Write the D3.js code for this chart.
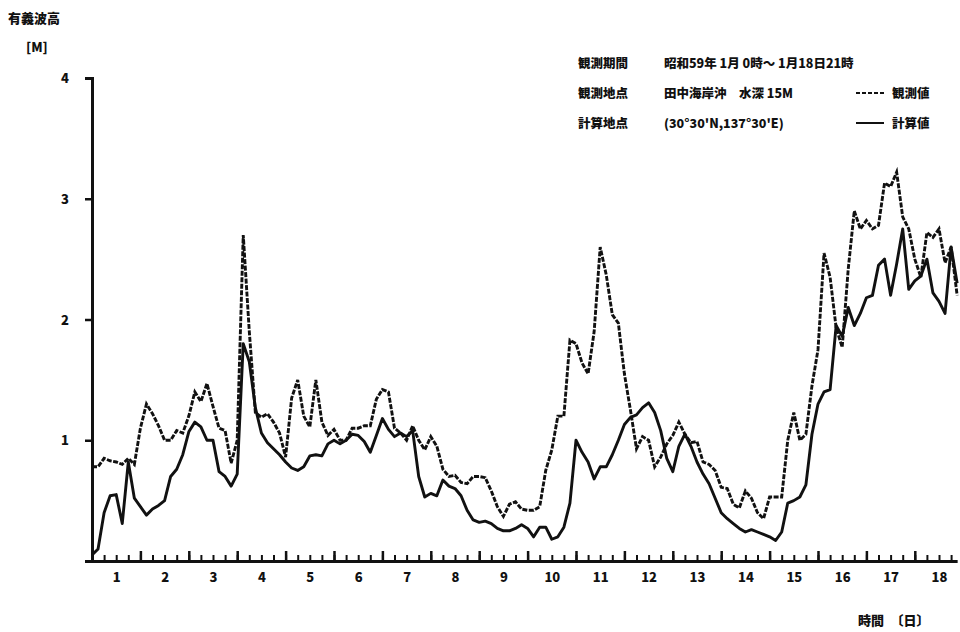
<!DOCTYPE html>
<html>
<head>
<meta charset="utf-8">
<script src="https://cdn.jsdelivr.net/npm/d3@7"></script>
<style>
  html, body { margin: 0; padding: 0; background: #fff; }
  svg { display: block; }
  text { font-family: "Noto Sans CJK JP", "Noto Sans", sans-serif; font-weight: 900; fill: #111; }
</style>
</head>
<body>
<svg id="chart" width="960" height="632"></svg>
<script>
// Significant wave height, 3-hourly, from Jan 1 00h to Jan 18 21h (hours since start)
const stepHours = 3;
const lastHour = 429;
const days = d3.range(1, 19);

// observed (dashed)
const observed = [
  0.78, 0.78, 0.85, 0.83, 0.82, 0.80, 0.85, 0.80,
  1.10, 1.30, 1.22, 1.12, 1.00, 1.00, 1.08, 1.06,
  1.20, 1.40, 1.32, 1.47, 1.28, 1.10, 1.08, 0.81,
  1.00, 2.70, 1.90, 1.23, 1.19, 1.22, 1.15, 1.06,
  0.86, 1.35, 1.50, 1.20, 1.11, 1.50, 1.15, 1.04,
  1.09, 1.00, 1.00, 1.10, 1.10, 1.12, 1.12, 1.34,
  1.42, 1.40, 1.10, 1.06, 1.00, 1.12, 1.00, 0.92,
  1.03, 0.95, 0.76, 0.70, 0.71, 0.65, 0.64, 0.70,
  0.70, 0.69, 0.58, 0.45, 0.37, 0.47, 0.49, 0.43,
  0.42, 0.42, 0.45, 0.75, 0.92, 1.20, 1.20, 1.83,
  1.80, 1.64, 1.55, 1.90, 2.60, 2.37, 2.04, 1.97,
  1.55, 1.25, 0.93, 1.03, 1.00, 0.78, 0.86, 0.97,
  1.04, 1.15, 1.05, 0.98, 0.99, 0.82, 0.80, 0.75,
  0.61, 0.60, 0.47, 0.44, 0.58, 0.52, 0.40, 0.35,
  0.53, 0.53, 0.53, 1.00, 1.23, 1.00, 1.05, 1.45,
  1.75, 2.55, 2.35, 1.93, 1.77, 2.42, 2.90, 2.75,
  2.82, 2.75, 2.78, 3.13, 3.10, 3.22, 2.85, 2.75,
  2.50, 2.35, 2.72, 2.68, 2.75, 2.47, 2.60, 2.20
];

// computed (solid)
const computed = [
  0.05, 0.10, 0.40, 0.54, 0.55, 0.31, 0.82, 0.52,
  0.45, 0.38, 0.43, 0.46, 0.50, 0.70, 0.76, 0.88,
  1.07, 1.15, 1.11, 1.00, 1.00, 0.74, 0.70, 0.62,
  0.72, 1.80, 1.65, 1.27, 1.06, 0.98, 0.93, 0.88,
  0.82, 0.77, 0.75, 0.78, 0.87, 0.88, 0.87, 0.97,
  1.00, 0.97, 1.00, 1.05, 1.04, 0.99, 0.90, 1.04,
  1.18, 1.09, 1.03, 1.06, 1.03, 1.08, 0.70, 0.53,
  0.56, 0.54, 0.67, 0.62, 0.60, 0.54, 0.42, 0.34,
  0.32, 0.33, 0.31, 0.27, 0.25, 0.25, 0.27, 0.30,
  0.27, 0.20, 0.28, 0.28, 0.18, 0.20, 0.28, 0.48,
  1.00, 0.90, 0.82, 0.68, 0.78, 0.78, 0.88, 1.00,
  1.13, 1.19, 1.21, 1.27, 1.31, 1.23, 1.08, 0.85,
  0.74, 0.95, 1.05, 0.95, 0.82, 0.72, 0.64, 0.52,
  0.40, 0.35, 0.31, 0.27, 0.24, 0.26, 0.24, 0.22,
  0.20, 0.17, 0.24, 0.48, 0.50, 0.53, 0.63, 1.05,
  1.30, 1.40, 1.42, 1.95, 1.86, 2.10, 1.95, 2.05,
  2.18, 2.20, 2.45, 2.50, 2.20, 2.46, 2.75, 2.25,
  2.32, 2.36, 2.50, 2.22, 2.15, 2.05, 2.60, 2.30
];

const yTicks = [1, 2, 3, 4];

const hours = observed.map((_, i) => i * stepHours);

const svg = d3.select("#chart");

const x = d3.scaleLinear().domain([0, lastHour]).range([92, 92 + lastHour * (48.4 / 24)]);
const y = d3.scaleLinear().domain([0, 4]).range([561, 78]);

// y axis with leftward ticks and hooks at both ends
const yAxis = d3.axisLeft(y).tickValues(yTicks).tickFormat(d3.format("d"))
  .tickSizeInner(7).tickSizeOuter(7).tickPadding(16);
const gy = svg.append("g").attr("transform", "translate(92,0)").call(yAxis);
gy.select(".domain").attr("stroke", "#111").attr("stroke-width", 3);
gy.selectAll(".tick line").attr("stroke", "#111").attr("stroke-width", 2.5);
gy.selectAll(".tick text").style("font-size", "13px").attr("dy", "0.35em");

// x axis: minor ticks every 6 h, major ticks at day boundaries (pointing up)
const gx = svg.append("g").attr("transform", "translate(0,561)");
gx.append("g").call(
  d3.axisBottom(x).tickValues(d3.range(6, lastHour, 6)).tickSizeInner(-6).tickSizeOuter(0).tickFormat("")
).call(g => {
  g.select(".domain").attr("stroke", "#111").attr("stroke-width", 3);
  g.selectAll(".tick line").attr("stroke", "#111").attr("stroke-width", 2);
});
gx.append("g").call(
  d3.axisBottom(x).tickValues(d3.range(24, lastHour, 24)).tickSizeInner(-10).tickSizeOuter(0).tickFormat("")
).call(g => {
  g.select(".domain").remove();
  g.selectAll(".tick line").attr("stroke", "#111").attr("stroke-width", 2.5);
});
// day labels centred in each day
gx.append("g").call(
  d3.axisBottom(x).tickValues(days.map(d => (d - 1) * 24 + 12))
    .tickFormat((d, i) => days[i]).tickSize(0).tickPadding(12)
).call(g => {
  g.select(".domain").remove();
  g.selectAll(".tick text").style("font-size", "13px");
});

// series lines
const line = d3.line().x((d, i) => x(hours[i])).y(d => y(d)).curve(d3.curveLinear);

svg.append("path").datum(computed)
  .attr("fill", "none").attr("stroke", "#111").attr("stroke-width", 2.9)
  .attr("stroke-linejoin", "round").attr("d", line);

svg.append("path").datum(observed)
  .attr("fill", "none").attr("stroke", "#111").attr("stroke-width", 2.9)
  .attr("stroke-dasharray", "5,1.5").attr("d", line);

// axis titles
svg.append("text").attr("x", 8).attr("y", 23).style("font-size", "13px").text("有義波高");
svg.append("text").attr("x", 26).attr("y", 52).style("font-size", "13px").text("[M]");
svg.append("text").attr("x", 858).attr("y", 625).style("font-size", "13px").text("時間　〔日〕");

// information block and legend
const info = [
  ["観測期間", "昭和59年 1月 0時～ 1月18日21時", null],
  ["観測地点", "田中海岸沖　水深 15M", "観測値"],
  ["計算地点", "(30°30'N,137°30'E)", "計算値"]
];
const infoY = [68, 98, 128];
info.forEach((row, i) => {
  svg.append("text").attr("x", 578).attr("y", infoY[i]).style("font-size", "12.5px").text(row[0]);
  svg.append("text").attr("x", 664).attr("y", infoY[i]).style("font-size", "12.5px").text(row[1]);
  if (row[2]) {
    svg.append("line").attr("x1", 856).attr("x2", 884)
      .attr("y1", infoY[i] - 5).attr("y2", infoY[i] - 5)
      .attr("stroke", "#111").attr("stroke-width", 2)
      .attr("stroke-dasharray", i === 1 ? "4,2" : null);
    svg.append("text").attr("x", 892).attr("y", infoY[i]).style("font-size", "12.5px").text(row[2]);
  }
});
</script>
</body>
</html>
